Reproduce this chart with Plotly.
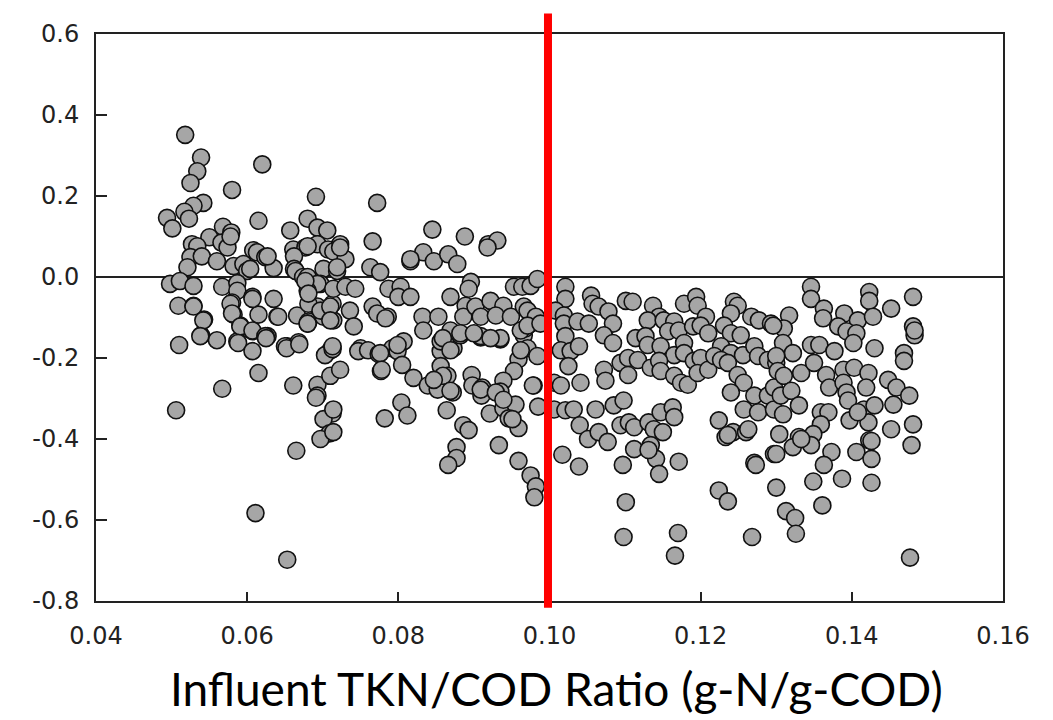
import plotly.graph_objects as go

# Influent TKN/COD ratio (g-N/g-COD) vs. response value
points_upper_left = [
    (0.0518, 0.351), (0.0539, 0.295), (0.0534, 0.261), (0.0525, 0.232), (0.0620, 0.278), (0.0580, 0.215),
    (0.0691, 0.198), (0.0542, 0.183), (0.0529, 0.176), (0.0517, 0.161), (0.0523, 0.144), (0.0494, 0.146),
    (0.0501, 0.120), (0.0615, 0.139), (0.0568, 0.124), (0.0579, 0.110), (0.0657, 0.115), (0.0680, 0.144),
    (0.0693, 0.122), (0.0706, 0.115), (0.0550, 0.098), (0.0566, 0.085), (0.0527, 0.081), (0.0534, 0.076),
    (0.0574, 0.073), (0.0608, 0.066), (0.0613, 0.061), (0.0624, 0.049), (0.0635, 0.022), (0.0661, 0.068),
    (0.0677, 0.073), (0.0693, 0.081), (0.0662, 0.051), (0.0525, 0.049), (0.0540, 0.051), (0.0560, 0.039),
    (0.0582, 0.027), (0.0595, 0.032), (0.0600, 0.015), (0.0521, 0.024), (0.0662, 0.020), (0.0701, 0.020),
    (0.0578, 0.100), (0.0627, 0.051), (0.0604, 0.020), (0.0680, 0.076), (0.0707, 0.068), (0.0723, 0.081),
    (0.0664, 0.015), (0.0674, 0.000), (0.0719, 0.015), (0.0772, 0.183), (0.0845, 0.117), (0.0888, 0.100),
    (0.0919, 0.081), (0.0931, 0.090), (0.0766, 0.088), (0.0714, 0.063), (0.0730, 0.044), (0.0816, 0.039),
    (0.0833, 0.061), (0.0847, 0.039), (0.0866, 0.056), (0.0878, 0.032), (0.0763, 0.024), (0.0776, 0.012),
    (0.0723, 0.073), (0.0816, 0.044), (0.0918, 0.073), (0.0719, 0.024), (0.0680, 0.000),
]

points_lower_left = [
    (0.0498, -0.017), (0.0511, -0.010), (0.0529, -0.022), (0.0567, -0.024), (0.0587, -0.015), (0.0587, -0.034),
    (0.0607, -0.049), (0.0635, -0.054), (0.0509, -0.071), (0.0529, -0.071), (0.0580, -0.063), (0.0543, -0.105),
    (0.0582, -0.093), (0.0615, -0.093), (0.0640, -0.098), (0.0666, -0.095), (0.0681, -0.110), (0.0693, -0.073),
    (0.0701, -0.098), (0.0539, -0.144), (0.0560, -0.156), (0.0591, -0.120), (0.0607, -0.134), (0.0627, -0.146),
    (0.0587, -0.159), (0.0510, -0.168), (0.0653, -0.171), (0.0668, -0.161), (0.0697, -0.017), (0.0693, -0.017),
    (0.0680, -0.034), (0.0681, -0.066), (0.0697, -0.083), (0.0713, -0.066), (0.0714, -0.107), (0.0529, -0.073),
    (0.0542, -0.107), (0.0578, -0.066), (0.0580, -0.090), (0.0591, -0.122), (0.0607, -0.132), (0.0624, -0.146),
    (0.0607, -0.054), (0.0641, -0.098), (0.0680, -0.115), (0.0538, -0.146), (0.0588, -0.163), (0.0607, -0.183),
    (0.0650, -0.171), (0.0710, -0.181), (0.0703, -0.193), (0.0615, -0.237), (0.0567, -0.276), (0.0661, -0.268),
    (0.0693, -0.266), (0.0710, -0.244), (0.0723, -0.229), (0.0693, -0.293), (0.0625, -0.151), (0.0652, -0.176),
    (0.0669, -0.166), (0.0713, -0.178), (0.0691, -0.298), (0.0506, -0.329), (0.0713, -0.337), (0.0701, -0.351),
    (0.0709, -0.386), (0.0697, -0.400), (0.0665, -0.429), (0.0611, -0.583), (0.0653, -0.698), (0.0677, -0.010),
    (0.0714, -0.029), (0.0730, -0.024), (0.0743, -0.029), (0.0681, -0.041), (0.0710, -0.073), (0.0736, -0.083),
    (0.0710, -0.107), (0.0741, -0.122), (0.0680, -0.115), (0.0713, -0.171), (0.0750, -0.176), (0.0714, -0.327),
    (0.0714, -0.383),
]

points_mid_left = [
    (0.0747, -0.183), (0.0760, -0.181), (0.0774, -0.190), (0.0792, -0.176), (0.0807, -0.159), (0.0799, -0.183),
    (0.0777, -0.232), (0.0805, -0.217), (0.0820, -0.249), (0.0839, -0.268), (0.0852, -0.278), (0.0856, -0.183),
    (0.0856, -0.220), (0.0865, -0.244), (0.0873, -0.176), (0.0872, -0.285), (0.0897, -0.242), (0.0898, -0.268),
    (0.0911, -0.273), (0.0910, -0.293), (0.0862, -0.154), (0.0882, -0.144), (0.0909, -0.149), (0.0935, -0.154),
    (0.0966, -0.144), (0.0971, -0.176), (0.0959, -0.203), (0.0953, -0.232), (0.0939, -0.256), (0.0935, -0.283),
    (0.0979, -0.268), (0.0804, -0.310), (0.0812, -0.342), (0.0782, -0.349), (0.0864, -0.329), (0.0921, -0.337),
    (0.0939, -0.324), (0.0955, -0.315), (0.0946, -0.349), (0.0959, -0.373), (0.0886, -0.366), (0.0893, -0.378),
    (0.0933, -0.415), (0.0877, -0.420), (0.0877, -0.447), (0.0866, -0.464), (0.0959, -0.454), (0.0975, -0.490),
    (0.0982, -0.517), (0.0980, -0.544), (0.0787, -0.029), (0.0803, -0.024), (0.0800, -0.049), (0.0816, -0.049),
    (0.0896, -0.012), (0.0893, -0.029), (0.0953, -0.024), (0.0964, -0.024), (0.0975, -0.022), (0.0984, -0.005),
    (0.0869, -0.049), (0.0766, -0.073), (0.0786, -0.098), (0.0832, -0.098), (0.0853, -0.098), (0.0833, -0.132),
    (0.0869, -0.132), (0.0889, -0.071), (0.0886, -0.098), (0.0902, -0.073), (0.0922, -0.059), (0.0939, -0.071),
    (0.0909, -0.098), (0.0929, -0.095), (0.0949, -0.098), (0.0966, -0.073), (0.0975, -0.115), (0.0909, -0.146),
    (0.0935, -0.151), (0.0968, -0.127), (0.0799, -0.168), (0.0856, -0.159), (0.0772, -0.090), (0.0783, -0.102),
    (0.0971, -0.083), (0.0982, -0.098), (0.0859, -0.151), (0.0882, -0.139), (0.0900, -0.139), (0.0922, -0.151),
    (0.0962, -0.132), (0.0971, -0.120), (0.0988, -0.115), (0.0869, -0.181), (0.0776, -0.188), (0.0962, -0.181),
    (0.0984, -0.195), (0.0778, -0.229), (0.0859, -0.244), (0.0847, -0.254), (0.0869, -0.281), (0.0909, -0.278),
    (0.0929, -0.285), (0.0939, -0.303), (0.0978, -0.268), (0.0951, -0.351), (0.0985, -0.320),
]

points_right_upper = [
    (0.1021, -0.024), (0.1021, -0.054), (0.1055, -0.046), (0.1057, -0.066), (0.1065, -0.073), (0.1078, -0.085),
    (0.1101, -0.059), (0.1110, -0.061), (0.1137, -0.071), (0.1145, -0.098), (0.1178, -0.066), (0.1194, -0.049),
    (0.1196, -0.071), (0.1207, -0.098), (0.1244, -0.061), (0.1249, -0.071), (0.1240, -0.090), (0.1267, -0.098),
    (0.1277, -0.107), (0.1293, -0.115), (0.1008, -0.083), (0.1019, -0.095), (0.1019, -0.115), (0.1037, -0.110),
    (0.1052, -0.115), (0.1084, -0.115), (0.1072, -0.144), (0.1084, -0.163), (0.1130, -0.107), (0.1151, -0.107),
    (0.1165, -0.110), (0.1157, -0.134), (0.1171, -0.132), (0.1190, -0.122), (0.1200, -0.120), (0.1210, -0.139),
    (0.1114, -0.151), (0.1127, -0.146), (0.1130, -0.168), (0.1147, -0.171), (0.1165, -0.193), (0.1178, -0.163),
    (0.1178, -0.188), (0.1231, -0.120), (0.1240, -0.139), (0.1253, -0.144), (0.1227, -0.171), (0.1240, -0.188),
    (0.1256, -0.193), (0.1271, -0.171), (0.1021, -0.146), (0.1015, -0.181), (0.1028, -0.183), (0.1039, -0.171),
    (0.1025, -0.220), (0.1006, -0.261), (0.1015, -0.268), (0.1041, -0.261), (0.1072, -0.229), (0.1074, -0.256),
    (0.1094, -0.212), (0.1104, -0.200), (0.1117, -0.205), (0.1104, -0.242), (0.1134, -0.224), (0.1145, -0.207),
    (0.1147, -0.232), (0.1165, -0.244), (0.1174, -0.261), (0.1183, -0.266), (0.1191, -0.207), (0.1200, -0.200),
    (0.1196, -0.237), (0.1210, -0.229), (0.1218, -0.195), (0.1227, -0.205), (0.1236, -0.212), (0.1249, -0.242),
    (0.1257, -0.261), (0.1240, -0.285), (0.1276, -0.195), (0.1289, -0.205), (0.1300, -0.212),
    (0.1346, -0.024), (0.1346, -0.054), (0.1423, -0.037), (0.1423, -0.059), (0.1481, -0.049), (0.1363, -0.078),
    (0.1362, -0.102), (0.1390, -0.090), (0.1408, -0.107), (0.1428, -0.098), (0.1452, -0.078), (0.1382, -0.122),
    (0.1393, -0.134), (0.1406, -0.139), (0.1402, -0.163), (0.1430, -0.176), (0.1481, -0.122), (0.1483, -0.144),
    (0.1483, -0.132), (0.1317, -0.095), (0.1310, -0.127), (0.1296, -0.120), (0.1309, -0.163), (0.1322, -0.188),
    (0.1346, -0.168), (0.1357, -0.168), (0.1377, -0.183), (0.1469, -0.188), (0.1469, -0.207),
]

points_right_lower = [
    (0.1006, -0.327), (0.1021, -0.329), (0.1032, -0.327), (0.1040, -0.366), (0.1051, -0.400), (0.1065, -0.383),
    (0.1077, -0.407), (0.1061, -0.327), (0.1085, -0.317), (0.1098, -0.305), (0.1094, -0.366), (0.1105, -0.359),
    (0.1112, -0.371), (0.1131, -0.359), (0.1138, -0.376), (0.1150, -0.383), (0.1147, -0.334), (0.1163, -0.322),
    (0.1165, -0.346), (0.1224, -0.354), (0.1243, -0.383), (0.1260, -0.383), (0.1233, -0.395), (0.1257, -0.327),
    (0.1276, -0.334), (0.1271, -0.293), (0.1289, -0.293), (0.1297, -0.327), (0.1017, -0.439), (0.1039, -0.468),
    (0.1097, -0.464), (0.1112, -0.425), (0.1134, -0.415), (0.1141, -0.449), (0.1171, -0.456), (0.1271, -0.459),
    (0.1297, -0.437), (0.1300, -0.195), (0.1302, -0.232), (0.1297, -0.273), (0.1310, -0.244), (0.1306, -0.293),
    (0.1333, -0.237), (0.1350, -0.212), (0.1366, -0.242), (0.1370, -0.273), (0.1389, -0.229), (0.1403, -0.224),
    (0.1422, -0.237), (0.1389, -0.261), (0.1393, -0.285), (0.1395, -0.305), (0.1320, -0.281), (0.1330, -0.317),
    (0.1309, -0.339), (0.1359, -0.334), (0.1369, -0.334), (0.1359, -0.364), (0.1349, -0.388), (0.1330, -0.395),
    (0.1419, -0.273), (0.1448, -0.254), (0.1459, -0.273), (0.1476, -0.293), (0.1455, -0.315), (0.1416, -0.327),
    (0.1430, -0.317), (0.1397, -0.354), (0.1422, -0.359), (0.1408, -0.334), (0.1452, -0.376), (0.1481, -0.364),
    (0.1423, -0.403), (0.1406, -0.432), (0.1426, -0.449), (0.1479, -0.415), (0.1304, -0.388), (0.1300, -0.437),
    (0.1322, -0.420), (0.1346, -0.415), (0.1373, -0.432), (0.1363, -0.464), (0.1101, -0.556), (0.1098, -0.642),
    (0.1170, -0.632), (0.1166, -0.688), (0.1131, -0.427), (0.1145, -0.486), (0.1236, -0.390), (0.1263, -0.376),
    (0.1273, -0.464), (0.1333, -0.400), (0.1224, -0.527), (0.1236, -0.554), (0.1300, -0.520), (0.1313, -0.578),
    (0.1325, -0.595), (0.1326, -0.634), (0.1268, -0.642), (0.1349, -0.505), (0.1361, -0.564), (0.1387, -0.498),
    (0.1426, -0.508), (0.1426, -0.405), (0.1477, -0.693),
]

x_ticks = [0.04, 0.06, 0.08, 0.10, 0.12, 0.14, 0.16]
y_ticks = [-0.8, -0.6, -0.4, -0.2, 0.0, 0.2, 0.4, 0.6]
threshold_ratio = 0.0998
x_title = "Influent TKN/COD Ratio (g-N/g-COD)"

all_points = points_upper_left + points_lower_left + points_mid_left + points_right_upper + points_right_lower
xs = [p[0] for p in all_points]
ys = [p[1] for p in all_points]

fig = go.Figure()
fig.add_trace(go.Scatter(
    x=xs, y=ys, mode="markers",
    marker=dict(symbol="circle", size=17, color="#a6a6a6", line=dict(color="#111111", width=1.6)),
    showlegend=False, hoverinfo="skip",
))

axis_font = dict(family="DejaVu Sans, sans-serif", size=24, color="#222222")
fig.update_xaxes(
    range=[0.04, 0.16], tickvals=x_ticks, ticktext=[f"{v:.2f}" for v in x_ticks],
    ticks="inside", ticklen=9, tickwidth=1.5, tickcolor="#222222",
    showline=True, linecolor="#222222", linewidth=2, mirror=True,
    showgrid=False, zeroline=False, tickfont=axis_font, ticklabelstandoff=12,
)
fig.update_yaxes(
    range=[-0.8, 0.6], tickvals=y_ticks, ticktext=[f"{v:.1f}" for v in y_ticks],
    ticks="inside", ticklen=11, tickwidth=2, tickcolor="#222222",
    showline=True, linecolor="#222222", linewidth=2, mirror=True,
    showgrid=False, zeroline=True, zerolinecolor="#222222", zerolinewidth=2,
    tickfont=axis_font, ticklabelstandoff=10,
)

fig.add_shape(type="line", xref="x", yref="paper", x0=threshold_ratio, x1=threshold_ratio,
              y0=-0.012, y1=1.036, line=dict(color="#ff0000", width=8), layer="above")

fig.add_annotation(text=x_title, xref="paper", yref="paper", x=0.508, y=-0.155,
                   xanchor="center", yanchor="middle", showarrow=False,
                   font=dict(family="Lato, Noto Sans, sans-serif", size=46, color="#000000"))

fig.update_layout(
    width=1045, height=712,
    margin=dict(l=88, r=50, t=19, b=119),
    paper_bgcolor="white", plot_bgcolor="white",
)

fig.write_html("out.html")
